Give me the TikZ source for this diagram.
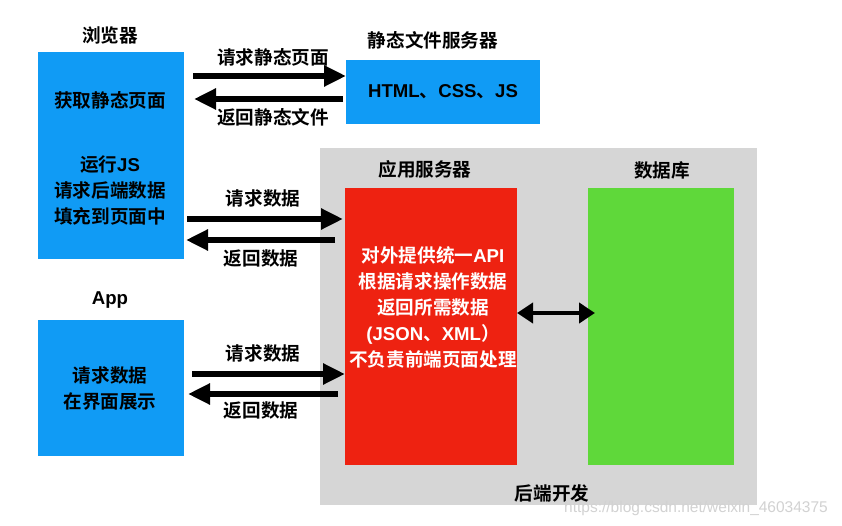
\documentclass[tikz,border=0pt]{standalone}
\usepackage{fontspec}
\setmainfont{Noto Sans CJK SC}[BoldFont={Noto Sans CJK SC Bold}]
\newfontfamily\latf{Liberation Sans}
\newcommand{\lat}[1]{{\latf\bfseries #1}}
\usetikzlibrary{arrows.meta,calc}
\definecolor{cblue}{RGB}{16,155,245}
\definecolor{cred}{RGB}{238,34,17}
\definecolor{cgreen}{RGB}{95,216,58}
\definecolor{cgray}{RGB}{214,214,214}
\begin{document}
\begin{tikzpicture}[x=1pt,y=-1pt,
  box/.style={draw=none, inner sep=0pt, outer sep=0pt},
  txt/.style={font=\fontsize{18.6}{26}\selectfont\bfseries, align=center, inner sep=0pt, text=black},
  wtxt/.style={txt, text=white},
  arr/.style={line width=5.5pt, -{Triangle[length=22pt,width=20pt]}},
  darr/.style={line width=4pt, {Triangle[length=16pt,width=20pt]}-{Triangle[length=16pt,width=20pt]}}
]
\useasboundingbox (0,0) rectangle (842,526);
\fill[white] (0,0) rectangle (842,526);

% background gray region
\node[box, fill=cgray, minimum width=437pt, minimum height=357pt] (backend) at (538.5,326.5) {};

% boxes
\node[box, fill=cblue, minimum width=146pt, minimum height=207pt] (browser) at (111,155.5) {};
\node[box, fill=cblue, minimum width=194pt, minimum height=64pt] (static) at (443,92) {};
\node[box, fill=cblue, minimum width=146pt, minimum height=136pt] (app) at (111,387.5) {};
\node[box, fill=cred, minimum width=172pt, minimum height=277pt] (appsrv) at (431,326.5) {};
\node[box, fill=cgreen, minimum width=146pt, minimum height=277pt] (db) at (661,326.5) {};

% titles
\node[txt] (tbrowser) at (110,35) {浏览器};
\node[txt] (tstatic) at (433,40) {静态文件服务器};
\node[txt] (tapp) at (110,300) {\lat{App}};
\node[txt] (tappsrv) at (425,169) {应用服务器};
\node[txt] (tdb) at (662,170) {数据库};
\node[txt] (tbackend) at (552,493) {后端开发};

% texts inside boxes
\node[txt] (b1) at (110,100) {获取静态页面};
\node[txt] (b2) at (110,190) {运行\lat{JS}\\请求后端数据\\填充到页面中};
\node[txt] (s1) at (443,92) {\lat{HTML}、\lat{CSS}、\lat{JS}};
\node[txt] (a1) at (110,388) {请求数据\\在界面展示};
\node[wtxt] (r1) at (433,307) {对外提供统一\lat{API}\\根据请求操作数据\\返回所需数据\\\lat{(JSON}、\lat{XML}）\\不负责前端页面处理};

% arrow levels
\coordinate (y1) at (0,76);
\coordinate (y2) at (0,99);
\coordinate (y3) at (0,219);
\coordinate (y4) at (0,240);
\coordinate (y5) at (0,374);
\coordinate (y6) at (0,394);
\coordinate (y7) at (0,313);

\draw[arr] ($(browser.east |- y1)+(9,0)$) -- (static.west |- y1);
\draw[arr] ($(static.west |- y2)+(-3,0)$) -- ($(browser.east |- y2)+(10,0)$);
\draw[arr] ($(browser.east |- y3)+(3,0)$) -- ($(appsrv.west |- y3)+(-2,0)$);
\draw[arr] ($(appsrv.west |- y4)+(-10,0)$) -- ($(browser.east |- y4)+(2,0)$);
\draw[arr] ($(app.east |- y5)+(8,0)$) -- (appsrv.west |- y5);
\draw[arr] ($(appsrv.west |- y6)+(-7,0)$) -- ($(app.east |- y6)+(4,0)$);
\draw[darr] (appsrv.east |- y7) -- ($(db.west |- y7)+(7,0)$);

% arrow labels
\node[txt] (l1) at (273,57) {请求静态页面};
\node[txt] (l2) at (273,117) {返回静态文件};
\node[txt] (l3) at (263,198) {请求数据};
\node[txt] (l4) at (261,258) {返回数据};
\node[txt] (l5) at (263,353) {请求数据};
\node[txt] (l6) at (261,410) {返回数据};

% watermark
\node[inner sep=0pt, text=gray!35, font=\latf\fontsize{15.5}{16}\selectfont] (wm) at (696,508) {https://blog.csdn.net/weixin\_46034375};
\end{tikzpicture}
\end{document}
